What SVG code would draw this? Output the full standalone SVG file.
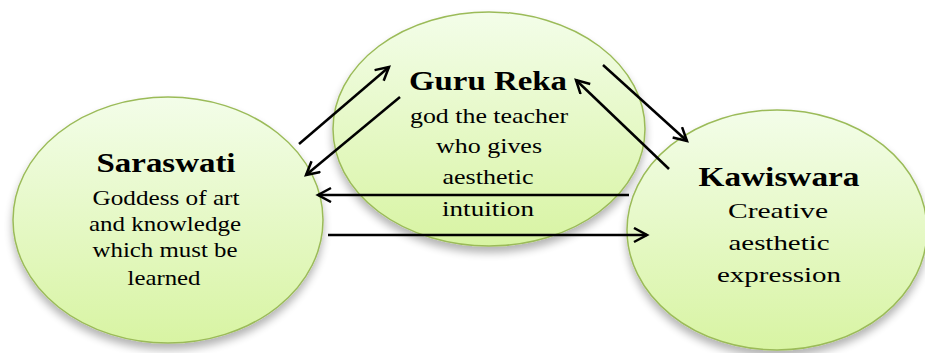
<svg xmlns="http://www.w3.org/2000/svg" width="925" height="353" viewBox="0 0 925 353">
  <defs>
    <linearGradient id="g" x1="0" y1="0" x2="0" y2="1">
      <stop offset="0" stop-color="#f3fde9"/>
      <stop offset="1" stop-color="#d8f4a3"/>
    </linearGradient>
    <filter id="sh" x="-10%" y="-10%" width="120%" height="130%">
      <feGaussianBlur in="SourceAlpha" stdDeviation="4"/>
      <feOffset dy="6" result="b"/>
      <feComponentTransfer><feFuncA type="linear" slope="0.3"/></feComponentTransfer>
      <feMerge><feMergeNode/><feMergeNode in="SourceGraphic"/></feMerge>
    </filter>
    <marker id="ah" markerUnits="userSpaceOnUse" markerWidth="18" markerHeight="18" refX="14" refY="8" orient="auto">
      <path d="M1,1 L14,8 L1,15" fill="none" stroke="#000" stroke-width="2.5" stroke-linejoin="miter"/>
    </marker>
  </defs>
  <style>
    .node ellipse { fill: url(#g); stroke: #9bbb59; stroke-width: 1.5; filter: url(#sh); }
    .t { font-family: 'Times New Roman', 'Liberation Serif', Times, serif; font-weight: bold; font-size: 28px; fill: #000; text-anchor: middle; }
    .b { font-family: 'Times New Roman', 'Liberation Serif', Times, serif; font-size: 22px; fill: #000; text-anchor: middle; }
    .c line { stroke: #000; stroke-width: 2.5; fill: none; marker-end: url(#ah); }
  </style>
  <rect width="925" height="353" fill="#fff"/>
  <g id="guru-reka" class="node">
    <ellipse cx="489" cy="129" rx="156" ry="117"/>
  </g>
  <g id="saraswati" class="node">
    <ellipse cx="168" cy="220" rx="155" ry="123"/>
  </g>
  <g id="kawiswara" class="node">
    <ellipse cx="777" cy="230" rx="150" ry="120"/>
  </g>
  <g id="labels">
    <text class="t" x="166" y="172" textLength="139" lengthAdjust="spacingAndGlyphs">Saraswati</text>
    <text class="b" x="166" y="205" textLength="147" lengthAdjust="spacingAndGlyphs">Goddess of art</text>
    <text class="b" x="165" y="231" textLength="152" lengthAdjust="spacingAndGlyphs">and knowledge</text>
    <text class="b" x="165" y="257" textLength="145" lengthAdjust="spacingAndGlyphs">which must be</text>
    <text class="b" x="164" y="285" textLength="73" lengthAdjust="spacingAndGlyphs">learned</text>

    <text class="t" x="488" y="90" textLength="158" lengthAdjust="spacingAndGlyphs">Guru Reka</text>
    <text class="b" x="489" y="123" textLength="158" lengthAdjust="spacingAndGlyphs">god the teacher</text>
    <text class="b" x="489" y="153" textLength="106" lengthAdjust="spacingAndGlyphs">who gives</text>
    <text class="b" x="488" y="184" textLength="91" lengthAdjust="spacingAndGlyphs">aesthetic</text>
    <text class="b" x="488" y="216" textLength="92" lengthAdjust="spacingAndGlyphs">intuition</text>

    <text class="t" x="779" y="186" textLength="161" lengthAdjust="spacingAndGlyphs">Kawiswara</text>
    <text class="b" x="778" y="218" textLength="100" lengthAdjust="spacingAndGlyphs">Creative</text>
    <text class="b" x="779" y="250" textLength="101" lengthAdjust="spacingAndGlyphs">aesthetic</text>
    <text class="b" x="779" y="282" textLength="124" lengthAdjust="spacingAndGlyphs">expression</text>
  </g>
  <g id="connectors" class="c">
    <line x1="299" y1="144" x2="389" y2="67"/>
    <line x1="400" y1="97" x2="306" y2="175"/>
    <line x1="629" y1="195" x2="318" y2="195"/>
    <line x1="328" y1="235" x2="647" y2="235"/>
    <line x1="603" y1="65" x2="687" y2="141"/>
    <line x1="669" y1="169" x2="576" y2="80"/>
  </g>
</svg>
